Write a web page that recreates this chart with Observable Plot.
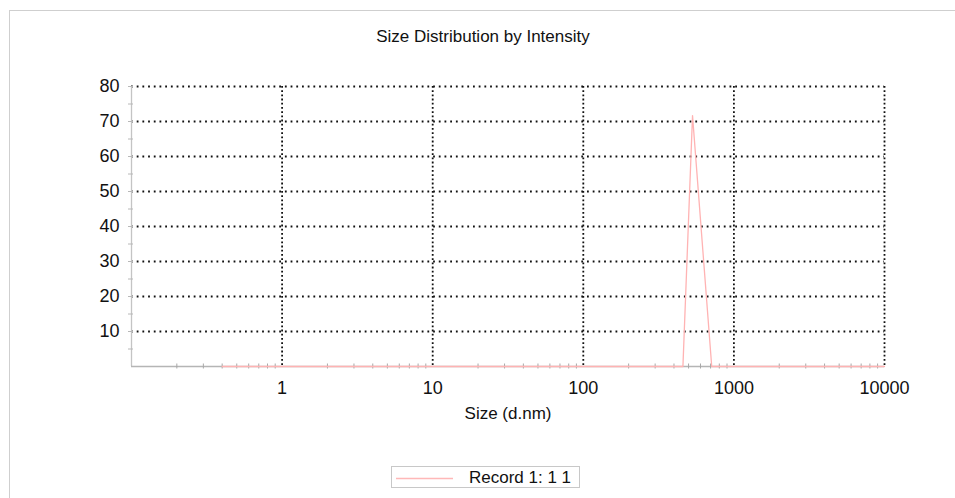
<!DOCTYPE html>
<html>
<head>
<meta charset="utf-8">
<script src="https://cdn.jsdelivr.net/npm/d3@7"></script>
<script src="https://cdn.jsdelivr.net/npm/@observablehq/plot@0.6"></script>
<style>
  html, body { margin: 0; padding: 0; background: #fff; }
  body { width: 955px; height: 498px; position: relative; overflow: hidden; font-family: "Liberation Sans", Arial, sans-serif; }
  #frame { position: absolute; left: 9px; top: 10px; right: -5px; bottom: -5px; border-top: 1.5px solid #cfcfcf; border-left: 1.5px solid #cfcfcf; }
  #title { position: absolute; left: 0; width: 966px; top: 27px; text-align: center; font-size: 17px; color: #111; }
  #chart { position: absolute; left: 0; top: 0; }
  #legend { position: absolute; left: 391px; top: 466px; width: 189px; height: 22px; border: 1px solid #c8c8c8; box-sizing: border-box; }
  #legend svg { position: absolute; left: 0; top: 0; }
  #legend span { position: absolute; left: 77px; top: 1px; font-size: 17px; color: #111; white-space: nowrap; }
</style>
</head>
<body>
<div id="frame"></div>
<div id="title">Size Distribution by Intensity</div>
<div id="chart"></div>
<div id="legend"><svg width="70" height="22"><line x1="4" x2="61" y1="11.5" y2="11.5" stroke="#ffb8b8" stroke-width="1.3"></line></svg><span>Record 1: 1 1</span></div>
<script>
// Data (size in d.nm, intensity in percent)
const sizes = [0.4, 458.7, 531.2, 712.4, 10000];
const intensity = [0, 0, 71.7, 0, 0];
const seriesName = "Record 1: 1 1";

// Axis ticks
const xTicks = [1, 10, 100, 1000, 10000];
const yTicks = [10, 20, 30, 40, 50, 60, 70, 80];
const xDomain = [0.1, 10000];
const yDomain = [0, 80];

const records = sizes.map((s, i) => ({size: s, value: intensity[i]}));
const minorX = [0.1, 1, 10, 100, 1000].flatMap(d => d3.range(2, 10).map(k => d * k));
const minorY = yTicks.map(v => v - 5);

const plot = Plot.plot({
  width: 955,
  height: 430,
  marginLeft: 131,
  marginRight: 71,
  marginTop: 86,
  marginBottom: 64,
  style: {fontFamily: "'Liberation Sans', Arial, sans-serif", color: "#111", background: "transparent"},
  x: {type: "log", domain: xDomain},
  y: {domain: yDomain},
  marks: [
    // dotted grid
    Plot.ruleY(yTicks, {stroke: "#111", strokeWidth: 1.8, strokeDasharray: "1.8,3.9"}),
    Plot.ruleX(xTicks, {stroke: "#111", strokeWidth: 1.8, strokeDasharray: "1.8,2.4"}),
    // axis lines
    Plot.ruleX([xDomain[0]], {stroke: "#c4c4c4", strokeWidth: 1.3, y1: yDomain[0], y2: yDomain[1]}),
    Plot.ruleY([yDomain[0]], {stroke: "#b5b5b5", strokeWidth: 1.3}),
    // minor ticks
    Plot.axisX(minorX, {tickSize: 5, dy: -2.5, stroke: "#a8a8a8", tickFormat: () => "", label: null}),
    Plot.axisY(minorY, {tickSize: 5, dx: 2, stroke: "#b8b8b8", tickFormat: () => "", label: null}),
    Plot.axisY(yTicks, {tickSize: 5, dx: 2, stroke: "#b8b8b8", tickFormat: () => "", label: null}),
    // major tick labels
    Plot.axisX(xTicks, {tickSize: 0, tickPadding: 15, fontSize: 18, tickFormat: d => String(d), label: null}),
    Plot.axisY(yTicks, {tickSize: 0, tickPadding: 12, fontSize: 18, tickFormat: d => String(d), label: null}),
    Plot.text(["Size (d.nm)"], {frameAnchor: "bottom", dy: 47, fontSize: 17, fill: "#111", lineAnchor: "middle"}),
    // series
    Plot.line(records, {x: "size", y: "value", stroke: "#ffb3b3", strokeWidth: 1.3, title: () => seriesName})
  ]
});
document.getElementById("chart").appendChild(plot);
</script>
</body>
</html>
